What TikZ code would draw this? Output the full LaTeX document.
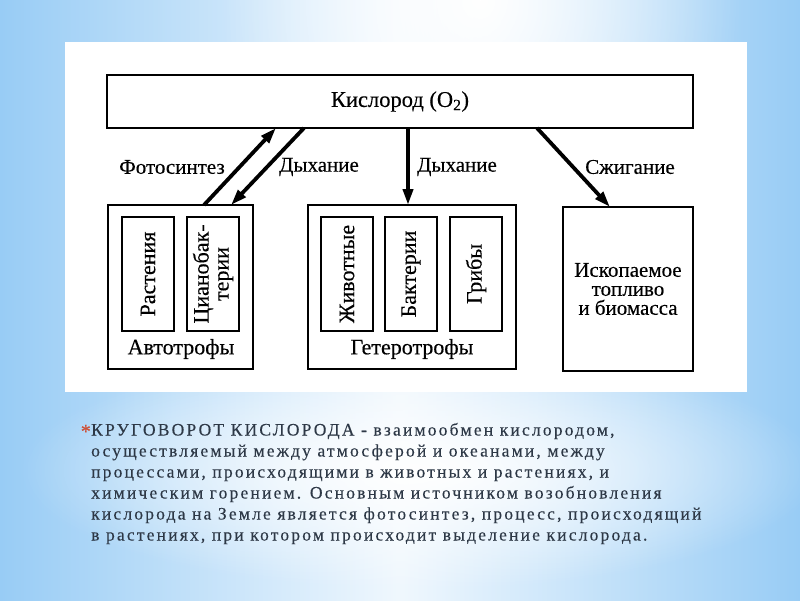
\documentclass[tikz,border=0pt]{standalone}
\usepackage{fontspec}
\setmainfont{Liberation Serif}[FakeBold=0.3]
\newfontfamily\slidefont[LetterSpace=12.5,FakeBold=0.2]{Liberation Serif}
\usetikzlibrary{arrows.meta,fadings,calc}
\definecolor{sky}{RGB}{152,204,245}
\definecolor{txt}{RGB}{45,56,70}
\definecolor{star}{RGB}{205,80,55}
\tikzfading[name=glow, inner color=transparent!0, outer color=transparent!100]
\tikzset{
  box/.style={draw=black, line width=2.6pt, fill=white, inner sep=0pt, outer sep=0pt},
  inbox/.style={box, rotate=90, minimum width=114pt, minimum height=52pt, font=\fontsize{22}{20}\selectfont, align=center},
  lab/.style={inner sep=0pt, font=\fontsize{21}{21}\selectfont},
  arr/.style={line width=3.8pt, -{Triangle[length=16pt,width=10pt]}},
  para/.style={anchor=base west, inner sep=0pt, text=txt, font=\slidefont\fontsize{17.5}{21}\selectfont},
}
\begin{document}
\begin{tikzpicture}[x=1pt,y=-1pt]
\useasboundingbox (0,0) rectangle (800,600);
% background
\shade[left color=sky, right color=sky, middle color=white!85!sky] (0,0) rectangle (800,600);
\fill[white, path fading=glow] (480,0) ellipse [x radius=260pt, y radius=300pt];
\fill[white, path fading=glow] (420,470) ellipse [x radius=400pt, y radius=120pt];
% picture panel
\fill[white] (65,42) rectangle (747,392);
% boxes
\node[box, minimum width=586pt, minimum height=53pt, font=\fontsize{22.5}{22}\selectfont] (o2) at (400,101.5) {Кислород (O\textsubscript{2})};
\node[box, minimum width=145pt, minimum height=164pt] (auto) at (180.5,287) {};
\node[box, minimum width=208pt, minimum height=164pt] (het) at (412,287) {};
\node[box, minimum width=130pt, minimum height=164pt, align=center, font=\fontsize{21}{19}\selectfont] (fos) at (628,289) {Ископаемое\\топливо\\и биомасса};
\node[inbox] (a1) at (148,274) {Растения};
\node[inbox] (a2) at (213,274) {Цианобак-\\терии};
\node[inbox] (h1) at (347,274) {Животные};
\node[inbox] (h2) at (411,274) {Бактерии};
\node[inbox] (h3) at (476,274) {Грибы};
\node[lab, font=\fontsize{22}{22}\selectfont] (autol) at (181,349) {Автотрофы};
\node[lab, font=\fontsize{22}{22}\selectfont] (hetl) at (412,349) {Гетеротрофы};
% arrows
\draw[arr] ([xshift=96pt]auto.north west) -- ([xshift=169pt]o2.south west);
\draw[arr] ([xshift=197pt]o2.south west) -- ([xshift=123pt]auto.north west);
\draw[arr] ([xshift=301pt]o2.south west) -- ([xshift=100pt]het.north west);
\draw[arr] ([xshift=430pt]o2.south west) -- ([xshift=47pt]fos.north west);
\node[lab] (l1) at (172,167) {Фотосинтез};
\node[lab] (l2) at (319,167) {Дыхание};
\node[lab] (l3) at (457,167) {Дыхание};
\node[lab] (l4) at (630,167) {Сжигание};
% text
\node[anchor=base east, inner sep=0pt, text=star, font=\fontsize{20}{20}\selectfont] (st) at (91,438) {*};
\node[para] (t1) at (91,435.5) {КРУГОВОРОТ КИСЛОРОДА - взаимообмен кислородом,};
\node[para] (t2) at (91,456.5) {осуществляемый между атмосферой и океанами, между};
\node[para] (t3) at (91,477.5) {процессами, происходящими в животных и растениях, и};
\node[para] (t4) at (91,498.5) {химическим горением. Основным источником возобновления};
\node[para] (t5) at (91,519.5) {кислорода на Земле является фотосинтез, процесс, происходящий};
\node[para] (t6) at (91,540.5) {в растениях, при котором происходит выделение кислорода.};
\end{tikzpicture}
\end{document}
